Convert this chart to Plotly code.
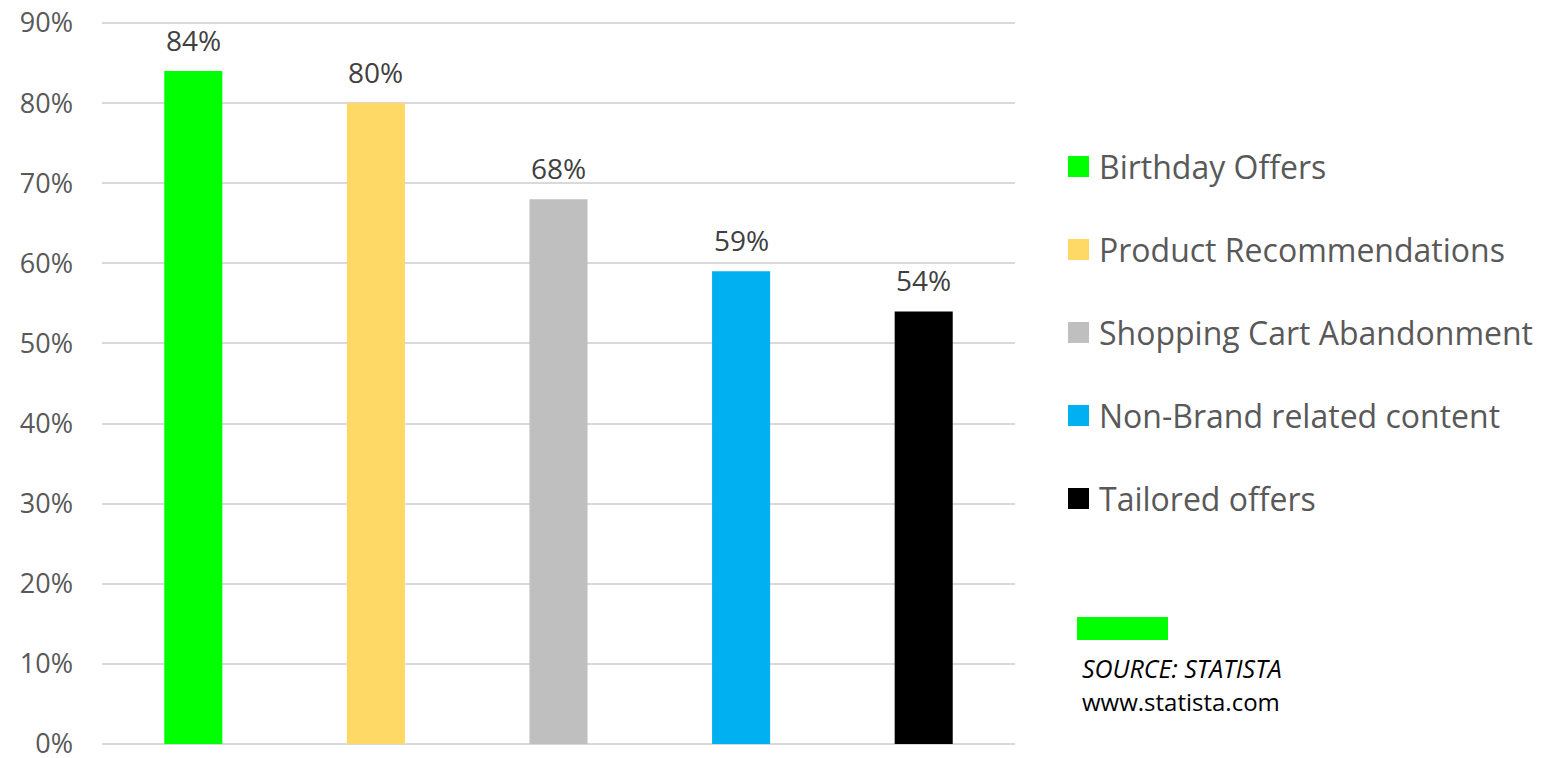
import plotly.graph_objects as go

categories = ["Birthday Offers", "Product Recommendations", "Shopping Cart Abandonment",
              "Non-Brand related content", "Tailored offers"]
values = [84, 80, 68, 59, 54]
colors = ["#00FF00", "#FFD966", "#BFBFBF", "#00B0F0", "#000000"]
tick_vals = [0, 10, 20, 30, 40, 50, 60, 70, 80, 90]
tick_text = [f"{v}%" for v in tick_vals]
source_lines = ["SOURCE: STATISTA", "www.statista.com"]

W, H = 1547, 758
OFF = 8  # page body margin offset
# target screen pixel positions of y=0 and y=90
Y0, Y90 = 744 - OFF, 23 - OFF
pad_units = 1.5
ppu = (Y0 - Y90) / 90.0
T = Y90 - pad_units * ppu
B = H - (Y0 + pad_units * ppu)
L, R = 102 - OFF, W - (1015 - OFF)

fig = go.Figure()
fig.add_trace(go.Bar(
    x=categories, y=values, marker=dict(color=colors, line=dict(width=0)),
    showlegend=False, hoverinfo="x+y",
))

annotations = []
for c, v in zip(categories, values):
    annotations.append(dict(
        x=c, y=v, xref="x", yref="y", text=f"{v}%", showarrow=False,
        yanchor="bottom", yshift=10,
        font=dict(family="Open Sans", size=28, color="#404040"),
    ))

shapes = []
pw = W - L - R
ph = H - T - B
def px_x(x):
    return (x - OFF - L) / pw
def px_y(y):
    return (H - B - (y - OFF)) / ph

legend_y0 = 166.5
legend_step = 83
for i, (c, col) in enumerate(zip(categories, colors)):
    cy = legend_y0 + i * legend_step
    shapes.append(dict(type="rect", xref="paper", yref="paper",
                       x0=px_x(1068), x1=px_x(1089), y0=px_y(cy + 10.5), y1=px_y(cy - 10.5),
                       fillcolor=col, line=dict(width=0)))
    annotations.append(dict(
        x=px_x(1097), y=px_y(cy), xref="paper", yref="paper", text=c,
        showarrow=False, xanchor="left", yanchor="middle",
        font=dict(family="Open Sans", size=32, color="#595959"),
    ))

shapes.append(dict(type="rect", xref="paper", yref="paper",
                   x0=px_x(1077), x1=px_x(1168), y0=px_y(640), y1=px_y(617),
                   fillcolor="#00FF00", line=dict(width=0)))
annotations.append(dict(
    x=px_x(1080), y=px_y(668), xref="paper", yref="paper", text=f"<i>{source_lines[0]}</i>",
    showarrow=False, xanchor="left", yanchor="middle",
    font=dict(family="Open Sans", size=25, color="#000000"),
))
annotations.append(dict(
    x=px_x(1080), y=px_y(702), xref="paper", yref="paper", text=source_lines[1],
    showarrow=False, xanchor="left", yanchor="middle",
    font=dict(family="Open Sans", size=24, color="#000000"),
))

fig.update_layout(
    width=W, height=H,
    margin=dict(l=L, r=R, t=T, b=B, pad=0, autoexpand=False),
    paper_bgcolor="white", plot_bgcolor="white",
    bargap=0.682,
    annotations=annotations, shapes=shapes,
    xaxis=dict(showticklabels=False, showgrid=False, zeroline=False, showline=False,
               ticks="", fixedrange=True, automargin=False),
    yaxis=dict(range=[-pad_units, 90 + pad_units], tickvals=tick_vals, ticktext=tick_text,
               showgrid=True, gridcolor="#D9D9D9", gridwidth=2, zeroline=False,
               showline=False, ticks="", ticklabelstandoff=28, automargin=False,
               ticklabeloverflow="allow",
               tickfont=dict(family="Open Sans", size=27, color="#595959")),
)

fig.write_html("out.html")
